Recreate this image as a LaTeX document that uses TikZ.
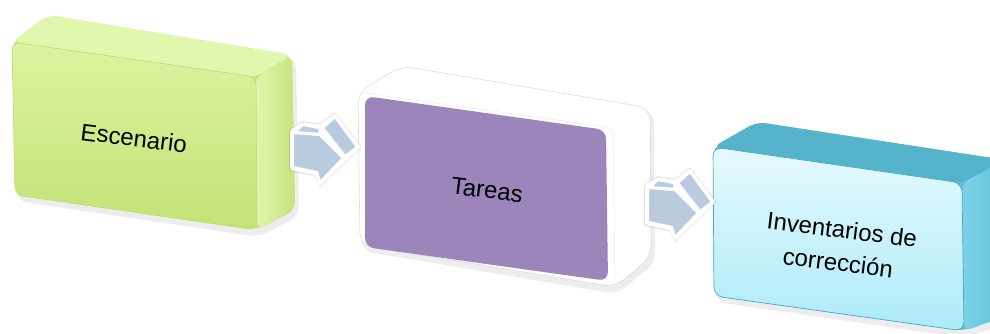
\documentclass[tikz,border=0pt]{standalone}
\usepackage{fontspec}
\setmainfont{Liberation Sans}
\usetikzlibrary{calc}
\definecolor{greentop}{HTML}{E2F7AE}
\definecolor{greenfrontA}{HTML}{DDF3A0}
\definecolor{greenfrontB}{HTML}{C2E275}
\definecolor{greenside}{HTML}{C6E47F}
\definecolor{greensideL}{HTML}{E0F5AE}
\definecolor{greenedge}{HTML}{BFDD7A}
\definecolor{purplefront}{HTML}{9B85BB}
\definecolor{whiteedge}{HTML}{DCDCDC}
\definecolor{cyantop}{HTML}{55B4CC}
\definecolor{cyanside}{HTML}{5CC0D9}
\definecolor{cyansideL}{HTML}{7ED2E6}
\definecolor{cyanfrontA}{HTML}{E6FAFF}
\definecolor{cyanfrontB}{HTML}{ADEAF8}
\definecolor{cyanedge}{HTML}{45AAC4}
\definecolor{arrowblue}{HTML}{BACADF}
\begin{document}
\begin{tikzpicture}[x=1pt,y=-1pt,
  lbl/.style={font=\fontsize{24}{33}\selectfont, align=center, text=black, inner sep=0pt, rotate=-7},
  shadowfill/.style={fill=black, opacity=0.07, rounded corners=10pt},
  arrowpiece/.style={fill=arrowblue, draw=white, line width=2.2pt, line join=round},
  arrow3d/.pic={
    \fill[black, opacity=0.12, rounded corners=2pt]
      (289,130) -- (302,121) -- (320,124) -- (335,112) -- (362,147) -- (320,187) -- (315,176) -- (289,171) -- cycle;
    \fill[white, rounded corners=2pt]
      (290,130) -- (302,122) -- (320,125) -- (335,113) -- (361,147) -- (320,186) -- (315,175) -- (290,170) -- cycle;
    \filldraw[arrowpiece] (293,133) -- (320,135) -- (343,158) -- (320,182) -- (317,172) -- (293,167) -- cycle;
    \filldraw[arrowpiece] (295,132) -- (303,125) -- (319,128) -- (320,134) -- cycle;
    \filldraw[arrowpiece] (323,128) -- (335,117) -- (357,147) -- (345,156) -- cycle;
  }]
\useasboundingbox (0,0) rectangle (990,334);
\clip (0,0) rectangle (990,334);

% ---------------- green box ----------------
\coordinate (g1) at (12,42);  \coordinate (g2) at (256,77);
\coordinate (g3) at (257,230); \coordinate (g4) at (15,195);
\coordinate (g5) at (48,15);  \coordinate (g6) at (292,55);
\coordinate (g7) at (295,210);
\fill[shadowfill] ($(g4)+(2,6)$) -- ($(g1)+(2,4)$) -- ($(g5)+(4,4)$) -- ($(g6)+(4,4)$) -- ($(g7)+(4,6)$) -- ($(g3)+(2,7)$) -- cycle;
\fill[greenside, rounded corners=10pt] (g4) -- (g1) -- (g5) -- (g6) -- (g7) -- (g3) -- cycle;
\fill[greentop, rounded corners=8pt] (g1) -- (g5) -- (g6) -- (g2) -- cycle;
\shade[left color=greensideL, right color=greenside, rounded corners=8pt] (g2) -- (g6) -- (g7) -- (g3) -- cycle;
\shade[top color=greenfrontA, bottom color=greenfrontB, draw=greenedge, line width=0.6pt, rounded corners=8pt] (g1) -- (g2) -- (g3) -- (g4) -- cycle;
\node[lbl] (esc) at (134,138) {Escenario};

% ---------------- purple / white box ----------------
\coordinate (w1) at (358,92);  \coordinate (w2) at (613,128);
\coordinate (w3) at (615,287); \coordinate (w4) at (360,245);
\coordinate (w5) at (402,66);  \coordinate (w6) at (650,108);
\coordinate (w7) at (651,257);
\fill[shadowfill] ($(w4)+(2,6)$) -- ($(w1)+(2,4)$) -- ($(w5)+(4,4)$) -- ($(w6)+(4,4)$) -- ($(w7)+(4,6)$) -- ($(w3)+(2,7)$) -- cycle;
\filldraw[fill=white, draw=whiteedge, line width=0.6pt, rounded corners=12pt] (w4) -- (w1) -- (w5) -- (w6) -- (w7) -- (w3) -- cycle;
\draw[whiteedge!60, line width=0.5pt, rounded corners=8pt] (w1) -- (w2) -- (w3);
\fill[purplefront, rounded corners=9pt] (365,96) -- (606,130) -- (608,281) -- (365,247) -- cycle;
\node[lbl] (tar) at (487,190) {Tareas};

% ---------------- cyan box ----------------
\coordinate (c1) at (713,147); \coordinate (c2) at (962,183);
\coordinate (c3) at (964,331); \coordinate (c4) at (714,296);
\coordinate (c5) at (757,122); \coordinate (c6) at (1005,160);
\coordinate (c7) at (1008,315);
\fill[shadowfill] ($(c4)+(2,6)$) -- ($(c1)+(2,4)$) -- ($(c5)+(4,4)$) -- ($(c6)+(4,4)$) -- ($(c7)+(4,6)$) -- ($(c3)+(2,7)$) -- cycle;
\fill[cyanside, rounded corners=10pt] (c4) -- (c1) -- (c5) -- (c6) -- (c7) -- (c3) -- cycle;
\fill[cyantop, rounded corners=8pt] (c1) -- (c5) -- (c6) -- (c2) -- cycle;
\shade[left color=cyansideL, right color=cyanside, rounded corners=8pt] (c2) -- (c6) -- (c7) -- (c3) -- cycle;
\shade[top color=cyanfrontA, bottom color=cyanfrontB, draw=cyanedge, line width=0.7pt, rounded corners=9pt] (c1) -- (c2) -- (c3) -- (c4) -- cycle;
\node[lbl] (inv) at (840,246) {Inventarios de\\corrección};

% ---------------- arrows ----------------
\pic (arA) at (0,0) {arrow3d};
\pic (arB) at (355,55) {arrow3d};
\end{tikzpicture}
\end{document}
